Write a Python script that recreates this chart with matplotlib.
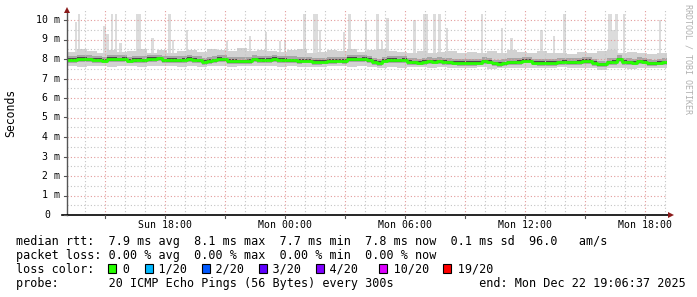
import matplotlib
matplotlib.use("Agg")
import matplotlib.pyplot as plt
import numpy as np
from matplotlib.patches import Rectangle

# time axis in hours since Sun 00:00, graph starts Sun 13:06:37, 30 h wide
T_START = 13 + 6 / 60 + 37 / 3600
T_SPAN = 30.0

# median rtt (ms), one value per 15 minutes
median_ms = [
    7.97, 7.97, 8.00, 8.00, 7.98, 7.97, 7.96, 7.92, 8.00, 8.00, 7.99, 8.00, 7.92, 7.95, 7.96, 7.93, 8.00, 8.02, 8.03, 7.94,
    7.95, 7.95, 7.93, 7.96, 8.00, 7.97, 7.94, 7.86, 7.90, 7.93, 8.00, 7.98, 7.90, 7.90, 7.89, 7.88, 7.90, 7.98, 7.97, 7.95,
    7.97, 8.00, 7.96, 7.95, 7.94, 7.93, 7.90, 7.92, 7.92, 7.86, 7.85, 7.87, 7.90, 7.90, 7.92, 7.90, 8.00, 8.00, 7.99, 8.00,
    7.95, 7.85, 7.80, 7.92, 7.95, 7.95, 7.93, 7.96, 7.85, 7.83, 7.82, 7.85, 7.88, 7.87, 7.88, 7.85, 7.84, 7.82, 7.80, 7.80,
    7.80, 7.80, 7.82, 7.88, 7.87, 7.77, 7.76, 7.78, 7.84, 7.83, 7.85, 7.92, 7.92, 7.82, 7.80, 7.80, 7.80, 7.80, 7.84, 7.85,
    7.84, 7.83, 7.86, 7.90, 7.90, 7.80, 7.72, 7.72, 7.83, 7.85, 7.98, 7.85, 7.83, 7.82, 7.88, 7.87, 7.78, 7.77, 7.82, 7.84,
]

# smoke envelope (ms), one value per 30 minutes
smoke_hi = [
    8.35, 8.50, 8.40, 8.30, 8.45, 8.35, 8.40, 8.50, 8.30, 8.45,
    8.30, 8.40, 8.45, 8.35, 8.50, 8.45, 8.40, 8.55, 8.40, 8.45,
    8.40, 8.35, 8.45, 8.50, 8.30, 8.35, 8.45, 8.40, 8.50, 8.35,
    8.45, 8.50, 8.40, 8.35, 8.30, 8.40, 8.30, 8.35, 8.40, 8.30,
    8.35, 8.30, 8.40, 8.30, 8.45, 8.35, 8.30, 8.40, 8.30, 8.30,
    8.25, 8.35, 8.30, 8.40, 8.45, 8.30, 8.35, 8.30, 8.25, 8.30,
]
smoke_lo = [
    7.65, 7.60, 7.62, 7.66, 7.60, 7.64, 7.62, 7.58, 7.66, 7.62,
    7.65, 7.60, 7.63, 7.60, 7.62, 7.64, 7.60, 7.62, 7.65, 7.62,
    7.63, 7.60, 7.62, 7.60, 7.58, 7.60, 7.62, 7.65, 7.60, 7.62,
    7.60, 7.55, 7.58, 7.55, 7.58, 7.60, 7.56, 7.58, 7.55, 7.56,
    7.55, 7.58, 7.50, 7.55, 7.56, 7.52, 7.55, 7.56, 7.55, 7.58,
    7.55, 7.56, 7.52, 7.45, 7.55, 7.52, 7.50, 7.55, 7.52, 7.55,
]

# single tall outlier pings (clock hours, ms)
spike_start = [13.51, 13.66, 14.91, 15.06, 15.31, 15.51, 15.71, 16.56, 17.31, 18.16, 18.36, 19.06, 21.06, 22.21,
               23.01, 23.71, 23.96, 24.91, 25.41, 25.71, 26.91, 27.16, 28.01, 28.56, 28.81, 29.06, 30.41, 30.91,
               31.41, 31.66, 32.06, 33.81, 34.81, 35.26, 36.76, 37.41, 37.91, 40.16, 40.36, 40.51, 40.91, 42.71]
spike_end = [13.61, 13.76, 15.06, 15.21, 15.41, 15.61, 15.86, 16.81, 17.46, 18.31, 18.46, 19.16, 21.16, 22.31,
             23.11, 23.81, 24.06, 25.06, 25.66, 25.81, 27.01, 27.31, 28.11, 28.71, 28.91, 29.21, 30.56, 31.16,
             31.56, 31.81, 32.16, 33.91, 34.91, 35.41, 36.91, 37.51, 38.06, 40.36, 40.51, 40.66, 41.01, 42.81]
spike_top = [9.9, 10.3, 9.7, 9.3, 10.3, 10.3, 8.8, 10.3, 9.1, 10.3, 9.0, 9.5, 8.9, 9.2,
             9.4, 8.9, 9.0, 10.3, 10.3, 9.5, 9.4, 10.3, 10.0, 10.3, 8.9, 10.1, 10.0, 10.3,
             10.3, 10.3, 9.6, 10.3, 9.6, 9.1, 9.5, 9.2, 10.3, 10.3, 9.5, 10.3, 10.3, 10.0]

xtick_hours = [18, 24, 30, 36, 42]
xtick_labels = ["Sun 18:00", "Mon 00:00", "Mon 06:00", "Mon 12:00", "Mon 18:00"]

legend_lines = [
    "median rtt:  7.9 ms avg  8.1 ms max  7.7 ms min  7.8 ms now  0.1 ms sd  96.0   am/s",
    "packet loss: 0.00 % avg  0.00 % max  0.00 % min  0.00 % now",
    "loss color:    0    1/20    2/20    3/20    4/20     10/20    19/20",
    "probe:       20 ICMP Echo Pings (56 Bytes) every 300s            end: Mon Dec 22 19:06:37 2025",
]
loss_colors = ["#26ff00", "#00b8ff", "#0059ff", "#5e00ff", "#7e00ff", "#dd00ff", "#ff0000"]
loss_box_x = [108, 145, 202, 259, 316, 379, 443]

W, H = 697, 297
MONO = "DejaVu Sans Mono"


def fx(x):
    return x / W


def fy(y):
    return 1 - y / H


fig = plt.figure(figsize=(W / 100, H / 100), dpi=100)
ax = fig.add_axes([fx(67), fy(215), 600 / W, 204.75 / H])
ax.set_xlim(T_START, T_START + T_SPAN)
ax.set_ylim(0, 10.5)

# smoke
for s, e, top in zip(spike_start, spike_end, spike_top):
    ax.fill_between([s, e], 8.2, top, color="#dcdcdc", lw=0, zorder=1)

t_hi = T_START + np.arange(len(smoke_hi) + 1) * 0.5
ax.fill_between(t_hi, np.append(smoke_lo, smoke_lo[-1]), np.append(smoke_hi, smoke_hi[-1]),
                step="post", color="#d2d2d2", lw=0, zorder=1.2)
t_med = T_START + np.arange(len(median_ms) + 1) * 0.25
med = np.append(median_ms, median_ms[-1])
ax.fill_between(t_med, med - 0.15, med + 0.2, step="post", color="#a6a6a6", lw=0, zorder=1.4)
ax.fill_between(t_med, med - 0.08, med + 0.08, step="post", color="#4a4a4a", lw=0, zorder=1.6)

# grid
for v in np.arange(0.5, 10.5, 1.0):
    ax.axhline(v, color="#c4c4c4", lw=0.8, ls=(0, (1, 2)), zorder=3)
for v in range(1, 11):
    ax.axhline(v, color="#e39a9a", lw=0.8, ls=(0, (1, 2)), zorder=3)
for h in range(14, 44):
    c = "#e39a9a" if h % 3 == 0 else "#c4c4c4"
    ax.axvline(h, color=c, lw=0.8, ls=(0, (1, 2)), zorder=3)

ax.step(t_med, med, where="post", color="#26ff00", lw=2.0, zorder=4)

for sp in ax.spines.values():
    sp.set_visible(False)
ax.set_xticks([])
ax.set_yticks([])

# axes lines and arrows
fig.add_artist(plt.Line2D([fx(67), fx(67)], [fy(215), fy(12)], color="#555555", lw=1))
fig.add_artist(plt.Line2D([fx(62), fx(669)], [fy(215), fy(215)], color="black", lw=1.2))
fig.add_artist(plt.Line2D([fx(67)], [fy(10)], marker="^", ms=4, color="#8b1a1a", mew=0))
fig.add_artist(plt.Line2D([fx(671)], [fy(215)], marker=">", ms=4, color="#8b1a1a", mew=0))

# y tick labels
for v in range(0, 11):
    y = 215 - v * 19.5
    lab = "0" if v == 0 else f"{v} m"
    xs = 44 if v == 0 else (36 if v == 10 else 42)
    fig.text(fx(xs), fy(y), lab, family=MONO, size=7.1, ha="left", va="center")
    fig.add_artist(plt.Line2D([fx(64), fx(67)], [fy(y), fy(y)], color="#555555", lw=0.8))

# x tick labels
for h, lab in zip(xtick_hours, xtick_labels):
    x = 67 + (h - T_START) * 20
    fig.text(fx(x), fy(225), lab, family=MONO, size=7.1, ha="center", va="center")
for h in range(15, 44, 3):
    x = 67 + (h - T_START) * 20
    fig.add_artist(plt.Line2D([fx(x), fx(x)], [fy(215), fy(218)], color="#555555", lw=0.8))

fig.text(fx(11), fy(113), "Seconds", family=MONO, size=8.3, rotation=90, ha="center", va="center")
fig.text(fx(688), fy(4), "RRDTOOL / TOBI OETIKER", family=MONO, size=6, rotation=270,
         ha="center", va="top", color="#b0b0b0")

for i, line in enumerate(legend_lines):
    fig.text(fx(16), fy(241 + i * 14), line, family=MONO, size=8.5, ha="left", va="center")
for x, c in zip(loss_box_x, loss_colors):
    fig.add_artist(Rectangle((fx(x), fy(273)), 8 / W, 9 / H, transform=fig.transFigure,
                             facecolor=c, edgecolor="black", lw=0.8))

fig.savefig("out.png", dpi=100)
